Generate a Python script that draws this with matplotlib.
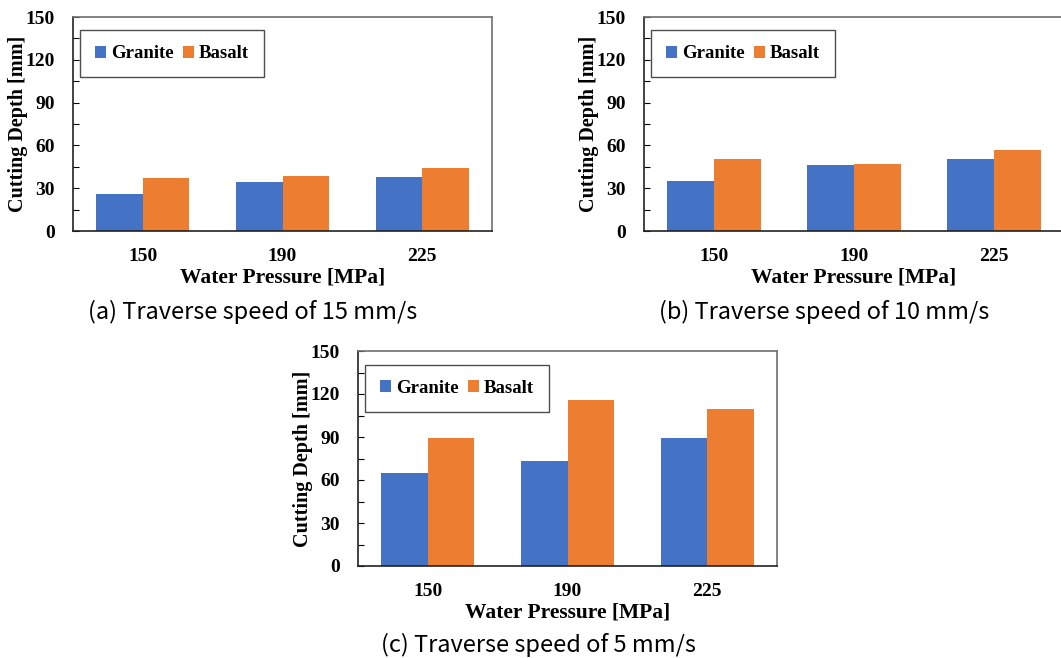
import numpy as np
import matplotlib
matplotlib.use('Agg')
import matplotlib.pyplot as plt
from matplotlib.ticker import MultipleLocator

# Data
PRESSURES = ['150', '190', '225']
GRANITE_15 = [26, 34, 38]
BASALT_15 = [37, 38.6, 44]
GRANITE_10 = [35, 46.5, 50.5]
BASALT_10 = [50.5, 47, 56.5]
GRANITE_5 = [65, 73, 89]
BASALT_5 = [89, 116, 109.5]
CAPTIONS = ['(a) Traverse speed of 15 mm/s',
            '(b) Traverse speed of 10 mm/s',
            '(c) Traverse speed of 5 mm/s']

BLUE = '#4472C4'
ORANGE = '#ED7D31'
W, H = 1061, 658
SERIF = 'Liberation Serif'
CAP_FONT = ['Noto Sans CJK KR', 'DejaVu Sans']


def px_axes(fig, left, top, right, bottom):
    return fig.add_axes([left / W, 1 - bottom / H, (right - left) / W, (bottom - top) / H])


def draw_panel(ax, granite, basalt):
    x = np.arange(len(PRESSURES))
    bw = 0.333
    ax.bar(x - bw / 2, granite, bw, color=BLUE, label='Granite')
    ax.bar(x + bw / 2, basalt, bw, color=ORANGE, label='Basalt')
    ax.set_xlim(-0.5, 2.5)
    ax.set_ylim(0, 150)
    ax.yaxis.set_major_locator(MultipleLocator(30))
    ax.yaxis.set_minor_locator(MultipleLocator(15))
    ax.set_xticks(x)
    ax.set_xticklabels(PRESSURES)
    ax.tick_params(axis='y', which='both', direction='in', length=4, width=0.8,
                   pad=13, labelsize=14)
    ax.tick_params(axis='x', length=0, pad=12, labelsize=14)
    for lab in ax.get_xticklabels() + ax.get_yticklabels():
        lab.set_fontfamily(SERIF)
        lab.set_fontweight('bold')
    ax.set_xlabel('Water Pressure [MPa]', fontfamily=SERIF, fontweight='bold',
                  fontsize=15.5, labelpad=2)
    ax.set_ylabel('Cutting Depth [mm]', fontfamily=SERIF, fontweight='bold',
                  fontsize=14.5, labelpad=-2)
    for side in ['left', 'bottom']:
        ax.spines[side].set_color('#222222')
        ax.spines[side].set_linewidth(1.2)
    for side in ['top', 'right']:
        ax.spines[side].set_color('#707070')
        ax.spines[side].set_linewidth(1.2)
    leg = ax.legend(loc='upper left', bbox_to_anchor=(0.017, 0.937), ncol=2,
                    frameon=True, fancybox=False, handlelength=0.6, handleheight=0.6,
                    handletextpad=0.25, columnspacing=0.5, borderpad=0.8,
                    borderaxespad=0,
                    prop={'family': SERIF, 'weight': 'bold', 'size': 13.5})
    leg.get_frame().set_edgecolor('#222222')
    leg.get_frame().set_linewidth(1.0)


fig = plt.figure(figsize=(W / 100, H / 100), dpi=100)

ax_a = px_axes(fig, 73, 17, 492, 231)
ax_b = px_axes(fig, 644, 17, 1064, 231)
ax_c = px_axes(fig, 358, 351, 777, 566)

draw_panel(ax_a, GRANITE_15, BASALT_15)
draw_panel(ax_b, GRANITE_10, BASALT_10)
draw_panel(ax_c, GRANITE_5, BASALT_5)

fig.text(253 / W, 1 - 312 / H, CAPTIONS[0], family=CAP_FONT, fontsize=17,
         ha='center', va='center')
fig.text(824 / W, 1 - 312 / H, CAPTIONS[1], family=CAP_FONT, fontsize=17,
         ha='center', va='center')
fig.text(538 / W, 1 - 645 / H, CAPTIONS[2], family=CAP_FONT, fontsize=17,
         ha='center', va='center')

fig.savefig('out.png', dpi=100)
